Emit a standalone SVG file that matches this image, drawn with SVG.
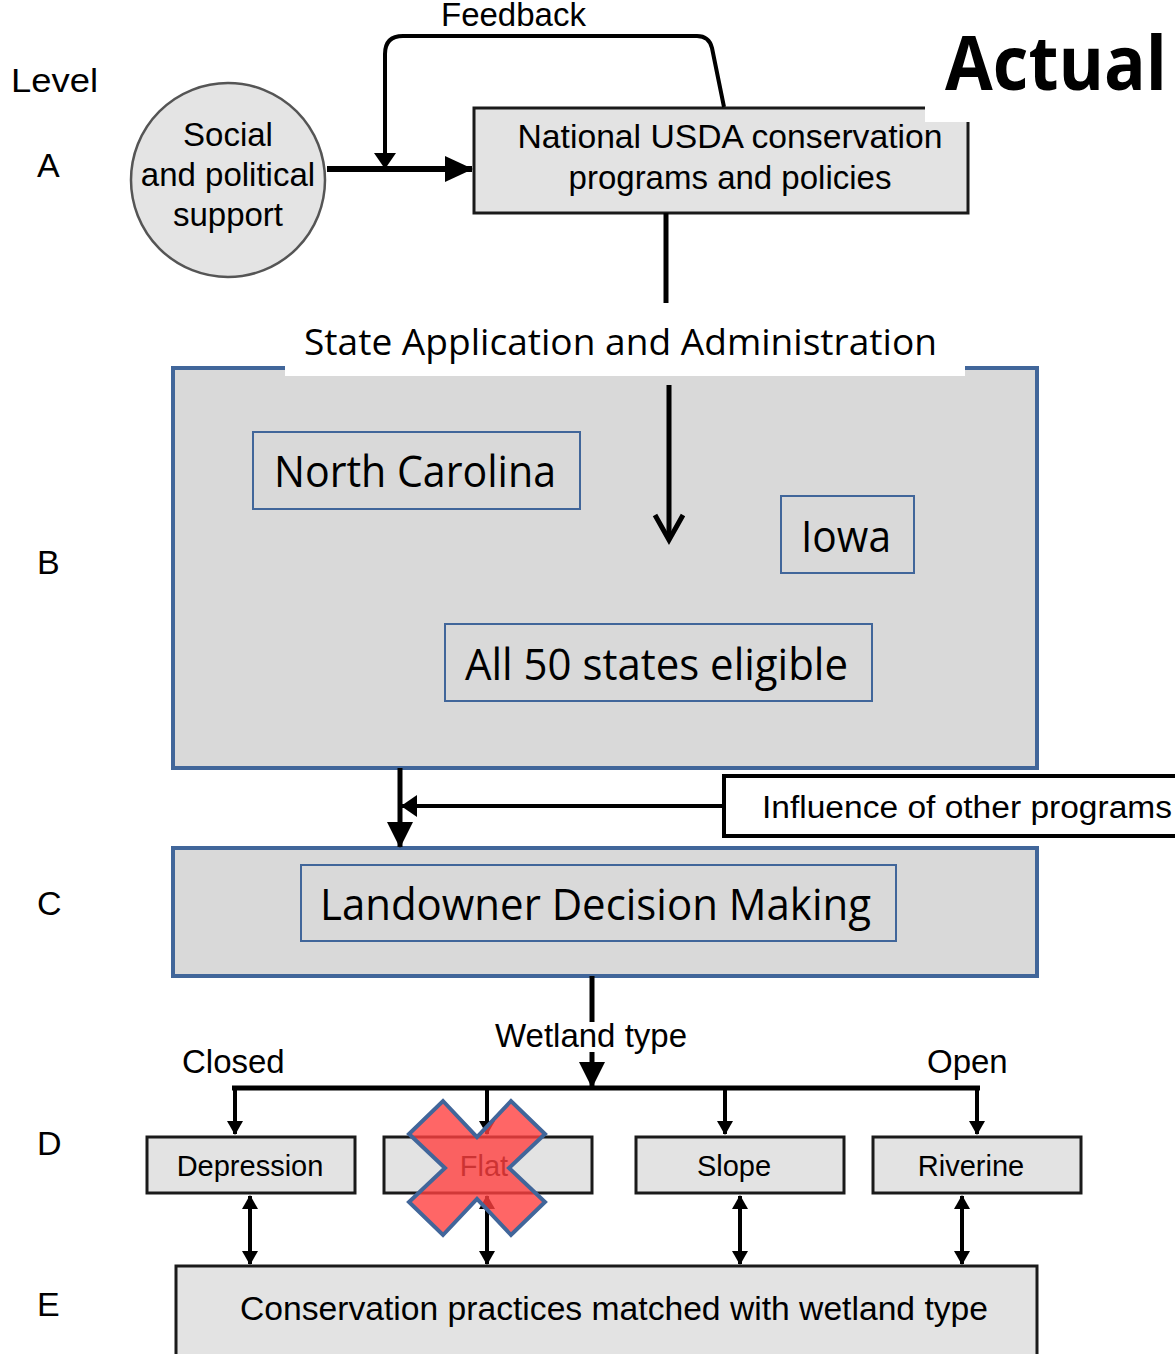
<svg xmlns="http://www.w3.org/2000/svg" width="1175" height="1354" viewBox="0 0 1175 1354">
<style>
.h{font-family:"Liberation Sans",Arial,sans-serif;fill:#000}
.c{font-family:"Open Sans","Noto Sans",sans-serif;fill:#000}
.g{fill:#e3e3e3;stroke:#1a1a1a;stroke-width:3}
.b{fill:#d9d9d9;stroke:#41669a;stroke-width:4}
.bi{fill:none;stroke:#41669a;stroke-width:2}
.ln{fill:none;stroke:#000;stroke-linecap:butt}
</style>
<defs>
<marker id="big" markerUnits="userSpaceOnUse" markerWidth="28" markerHeight="26" refX="27" refY="13" orient="auto"><path d="M0,0 L28,13 L0,26 z" fill="#000"/></marker>
<marker id="med" markerUnits="userSpaceOnUse" markerWidth="26" markerHeight="26" refX="25" refY="13" orient="auto"><path d="M0,0 L26,13 L0,26 z" fill="#000"/></marker>
<marker id="fb" markerUnits="userSpaceOnUse" markerWidth="16" markerHeight="24" refX="15" refY="12" orient="auto"><path d="M0,1 L16,12 L0,23 z" fill="#000"/></marker>
<marker id="sm" markerUnits="userSpaceOnUse" markerWidth="14" markerHeight="16" refX="13" refY="8" orient="auto-start-reverse"><path d="M0,0 L14,8 L0,16 z" fill="#000"/></marker>
</defs>

<g id="labels">
<text class="h" x="11" y="92" font-size="34" textLength="87" lengthAdjust="spacingAndGlyphs">Level</text>
<text class="h" x="37" y="177" font-size="34">A</text>
<text class="h" x="37" y="574" font-size="34">B</text>
<text class="h" x="37" y="915" font-size="34">C</text>
<text class="h" x="37" y="1155" font-size="34">D</text>
<text class="h" x="37" y="1316" font-size="34">E</text>
<text class="h" x="441" y="26" font-size="33">Feedback</text>
<text class="h" x="182" y="1073" font-size="33">Closed</text>
<text class="h" x="927" y="1073" font-size="33">Open</text>
<text class="h" x="495" y="1047" font-size="33">Wetland type</text>
</g>

<g id="social">
<circle cx="228" cy="180" r="97" fill="#e4e4e4" stroke="#555" stroke-width="2.5"/>
<text class="h" x="228" y="146" font-size="33" text-anchor="middle">Social</text>
<text class="h" x="228" y="186" font-size="33" text-anchor="middle">and political</text>
<text class="h" x="228" y="226" font-size="33" text-anchor="middle">support</text>
</g>

<g id="national">
<rect class="g" x="474" y="108" width="494" height="105"/>
<text class="h" x="730" y="148" font-size="33" text-anchor="middle" textLength="425" lengthAdjust="spacingAndGlyphs">National USDA conservation</text>
<text class="h" x="730" y="189" font-size="33" text-anchor="middle">programs and policies</text>
</g>

<g id="actual">
<rect x="925" y="0" width="250" height="122" fill="#fff"/>
<text class="c" x="945" y="90" font-size="76" font-weight="bold" textLength="222" lengthAdjust="spacingAndGlyphs">Actual</text>
</g>

<g id="stateB">
<rect class="b" x="173" y="368" width="864" height="400"/>
<rect x="285" y="310" width="680" height="66" fill="#fff"/>
<text class="c" x="304" y="355" font-size="37" textLength="633" lengthAdjust="spacingAndGlyphs">State Application and Administration</text>
</g>

<g id="nc">
<rect class="bi" x="253" y="432" width="327" height="77"/>
<text class="c" x="274" y="487" font-size="43" textLength="282" lengthAdjust="spacingAndGlyphs">North Carolina</text>
</g>
<g id="iowa">
<rect class="bi" x="781" y="496" width="133" height="77"/>
<text class="c" x="801" y="552" font-size="43" textLength="90" lengthAdjust="spacingAndGlyphs">Iowa</text>
</g>
<g id="all50">
<rect class="bi" x="445" y="624" width="427" height="77"/>
<text class="c" x="465" y="680" font-size="43" textLength="383" lengthAdjust="spacingAndGlyphs">All 50 states eligible</text>
</g>

<g id="influence">
<rect x="724" y="776" width="460" height="60" fill="#fff" stroke="#000" stroke-width="4"/>
<text class="h" x="762" y="818" font-size="31" textLength="410" lengthAdjust="spacingAndGlyphs">Influence of other programs</text>
</g>

<g id="landowner">
<rect class="b" x="173" y="848" width="864" height="128"/>
<rect class="bi" x="301" y="865" width="595" height="76"/>
<text class="c" x="320" y="920" font-size="43" textLength="551" lengthAdjust="spacingAndGlyphs">Landowner Decision Making</text>
</g>

<g id="depression">
<rect class="g" x="147" y="1137" width="208" height="56"/>
<text class="h" x="250" y="1176" font-size="29" text-anchor="middle">Depression</text>
</g>
<g id="flat">
<rect class="g" x="384" y="1137" width="208" height="56"/>
<text class="h" x="484" y="1176" font-size="29" text-anchor="middle">Flat</text>
</g>
<g id="slope">
<rect class="g" x="636" y="1137" width="208" height="56"/>
<text class="h" x="734" y="1176" font-size="29" text-anchor="middle">Slope</text>
</g>
<g id="riverine">
<rect class="g" x="873" y="1137" width="208" height="56"/>
<text class="h" x="971" y="1176" font-size="29" text-anchor="middle">Riverine</text>
</g>

<g id="practices">
<rect class="g" x="176" y="1266" width="861" height="100" stroke-width="4"/>
<text class="h" x="240" y="1320" font-size="33" textLength="748" lengthAdjust="spacingAndGlyphs">Conservation practices matched with wetland type</text>
</g>

<g id="connectors">
<path class="ln" d="M724,107 L712,48 Q709,36 697,36 L403,36 Q385,36 385,54 L385,168" stroke-width="4" marker-end="url(#fb)"/>
<line class="ln" x1="327" y1="169" x2="472" y2="169" stroke-width="6" marker-end="url(#big)"/>
<line class="ln" x1="666" y1="213" x2="666" y2="303" stroke-width="5"/>
<line class="ln" x1="669" y1="385" x2="669" y2="538" stroke-width="5"/>
<polyline class="ln" points="655,515 669,540 683,515" stroke-width="5"/>
<line class="ln" x1="400" y1="768" x2="400" y2="847" stroke-width="5" marker-end="url(#med)"/>
<line class="ln" x1="724" y1="806" x2="402" y2="806" stroke-width="4" marker-end="url(#fb)"/>
<line class="ln" x1="592" y1="976" x2="592" y2="1022" stroke-width="5"/>
<line class="ln" x1="592" y1="1052" x2="592" y2="1087" stroke-width="5" marker-end="url(#med)"/>
<line class="ln" x1="232" y1="1088" x2="980" y2="1088" stroke-width="5"/>
<line class="ln" x1="235" y1="1086" x2="235" y2="1134" stroke-width="4" marker-end="url(#sm)"/>
<line class="ln" x1="487" y1="1086" x2="487" y2="1134" stroke-width="4" marker-end="url(#sm)"/>
<line class="ln" x1="725" y1="1086" x2="725" y2="1134" stroke-width="4" marker-end="url(#sm)"/>
<line class="ln" x1="977" y1="1086" x2="977" y2="1134" stroke-width="4" marker-end="url(#sm)"/>
<line class="ln" x1="250" y1="1196" x2="250" y2="1264" stroke-width="4" marker-start="url(#sm)" marker-end="url(#sm)"/>
<line class="ln" x1="487" y1="1196" x2="487" y2="1264" stroke-width="4" marker-start="url(#sm)" marker-end="url(#sm)"/>
<line class="ln" x1="740" y1="1196" x2="740" y2="1264" stroke-width="4" marker-start="url(#sm)" marker-end="url(#sm)"/>
<line class="ln" x1="962" y1="1196" x2="962" y2="1264" stroke-width="4" marker-start="url(#sm)" marker-end="url(#sm)"/>
</g>

<g id="cross">
<polygon points="443,1101 477,1137 511,1101 545,1134 509,1168 545,1202 511,1235 477,1199 443,1235 409,1202 445,1168 409,1134" fill="#ff4040" fill-opacity="0.8" stroke="#41669a" stroke-width="4" stroke-linejoin="miter"/>
</g>
</svg>
